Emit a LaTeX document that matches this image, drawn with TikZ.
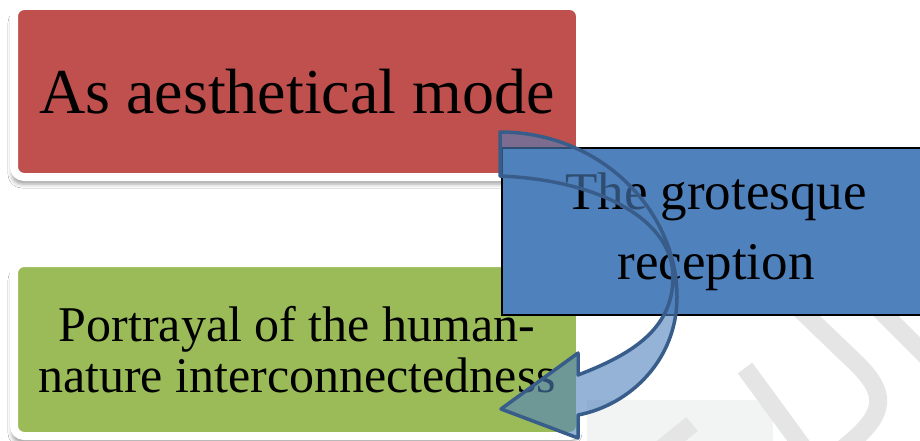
\documentclass[tikz,border=0pt]{standalone}
\usepackage{fontspec}
\setmainfont{Liberation Serif}
\usetikzlibrary{shadows.blur}
\definecolor{accRed}{HTML}{C0504D}
\definecolor{accGreen}{HTML}{9BBB59}
\definecolor{accBlue}{HTML}{4F81BD}
\definecolor{accBlueDark}{HTML}{385D8A}
\definecolor{markGrey}{HTML}{E5E5E5}
\definecolor{markPale}{HTML}{F2F3F3}
\tikzset{
  card/.style={rectangle, rounded corners=10pt, draw=white, line width=8pt,
    inner sep=0pt, align=center,
    blur shadow={shadow xshift=-2pt, shadow yshift=-7pt, shadow blur radius=4pt, shadow opacity=38}},
  bluebox/.style={rectangle, fill=accBlue, draw=black, line width=1.6pt,
    inner sep=0pt, align=center},
  curvedarrow/.style={fill=accBlue, fill opacity=0.6, draw=accBlueDark,
    line width=3.5pt, line join=round},
  wmark/.style={draw=markGrey, line width=18pt}
}
\begin{document}
\begin{tikzpicture}[x=1pt, y=-1pt]
  \useasboundingbox (0,0) rectangle (920,441);
  \clip (0,0) rectangle (920,441);
  \fill[white] (0,0) rectangle (920,441);

  % faint background mark
  \fill[markPale] (587,400) rectangle (773,441);
  \draw[wmark] (745,368) -- (805,450);
  \draw[wmark] (780,290) -- (855,362) .. controls (895,400) and (880,420) .. (835,455);
  \draw[wmark] (870,300) -- (930,360);
  \draw[wmark] (660,450) -- (692,424);

  % boxes
  \node[card, fill=accRed, minimum width=566pt, minimum height=171pt,
        font={\fontsize{64}{64}\selectfont}] (aes) at (297,91.5)
    {As aesthetical mode};
  \node[card, fill=accGreen, minimum width=566pt, minimum height=173pt,
        font={\fontsize{50}{51}\selectfont}] (por) at (297,349.5)
    {Portrayal of the human-\\nature interconnectedness};
  \node[bluebox, minimum width=428pt, minimum height=167pt,
        font={\fontsize{53}{70}\selectfont}] (gro) at (716,231.5)
    {The grotesque\\reception};

  % curved arrow from the top box round to the bottom box
  \draw[curvedarrow]
    (500,132) .. controls (600,132) and (677,210) .. (677,297)
              .. controls (677,360) and (630,405) .. (578,415)
    -- (578,438) -- (501,409) -- (578,353) -- (578,375)
              .. controls (630,355) and (673,330) .. (673,277)
              .. controls (673,220) and (600,180) .. (500,176)
    -- cycle;
\end{tikzpicture}
\end{document}
